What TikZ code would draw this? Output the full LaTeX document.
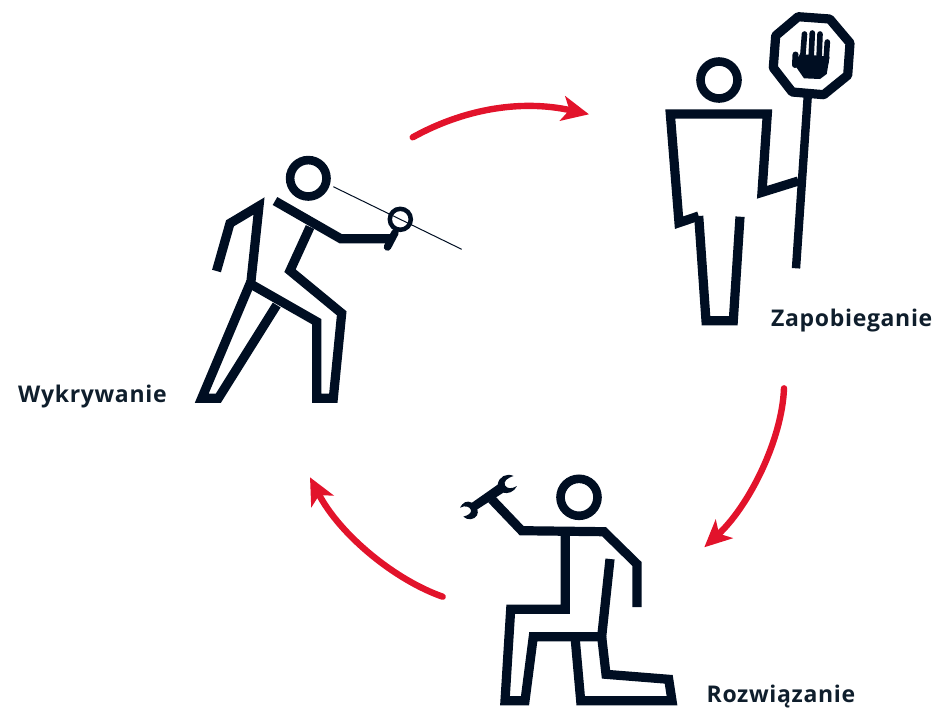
\documentclass[tikz,border=0pt]{standalone}
\usepackage{fontspec}
\setmainfont{Open Sans}[LetterSpace=2.9]
\usetikzlibrary{arrows.meta}
\definecolor{ink}{HTML}{000E22}
\definecolor{txt}{HTML}{0F1E2C}
\definecolor{redc}{HTML}{E2132B}
\tikzset{
  fig/.style={draw=ink,line width=9.2pt,line join=miter,miter limit=10,line cap=butt},
  headc/.style={draw=ink,line width=8.6pt},
  flow/.style={draw=redc,line width=6.4pt,line cap=round,-{Stealth[length=27pt,width=25pt,inset=7pt]}},
  lbl/.style={anchor=base west,inner sep=0pt,text=txt,font=\fontsize{23}{26}\selectfont\bfseries},
  finger/.style={draw=ink,line width=5.6pt,line cap=round}
}
\begin{document}
\begin{tikzpicture}[x=1pt,y=-1pt]
\useasboundingbox (0,0) rectangle (940,710);
% Wykrywanie figure
\draw[headc] (308.3,178.3) circle[radius=18.2pt];
\draw[ink,line width=1pt] (333.3,186.7) -- (461.7,249.3);
\draw[draw=ink,line width=4.5pt] (400.3,219.3) circle[radius=10.5pt];
\draw[fig] (275,201) -- (340.7,238.7) -- (392,238.7);
\draw[draw=ink,line width=7.5pt,line cap=round] (395,232.7) -- (387.5,247);
\draw[fig] (216.5,271) -- (230,223.3) -- (259,206) -- (250.7,284) -- (316.7,321.7) -- (316.7,398.3) -- (333.3,398.3) -- (341.7,313.3) -- (290,270.7) -- (310,227);
\draw[fig] (250.7,282) -- (201.7,398.3) -- (218.3,398.3) -- (276.7,305);
% Zapobieganie figure
\draw[headc] (719,80) circle[radius=18.5pt];
\draw[fig] (698.7,216) -- (679,222.7) -- (670.3,114) -- (767.3,114) -- (762,192.3) -- (798.3,181);
\draw[fig] (698.7,216) -- (706,320.7) -- (733.3,320.7) -- (740,216.7);
\draw[draw=ink,line width=8.4pt] (807.7,96.7) -- (796,268.3);
\draw[fig,line join=round] (798.2,16.7) -- (829.7,19) -- (850,43) -- (847.7,75.2) -- (823.7,94.7) -- (792.2,92) -- (773.3,67.7) -- (775.7,35.7) -- cycle;
\fill[ink] (794,64) -- (804,78.3) -- (820,79) -- (826.7,74) -- (829.6,56.7) -- (800,54) -- cycle;
\draw[finger,line width=6pt] (795.5,54.5) -- (795,65);
\draw[finger] (804.5,34) -- (802.5,60);
\draw[finger] (812.3,33) -- (811,60);
\draw[finger] (820,34) -- (819,60);
\draw[finger] (827.3,42) -- (826,62);
% Rozwiazanie figure
\draw[headc] (579,497.3) circle[radius=18.5pt];
\draw[fig] (491.7,499.3) -- (521.7,530.7) -- (604,531.7) -- (637,564) -- (637,607);
\draw[fig] (565.3,531.7) -- (565.3,609.3) -- (510.7,609.3) -- (505,700.7) -- (525,700.7) -- (533.3,636.7) -- (601.7,636.7) -- (610,559);
\draw[fig] (601.7,636.7) -- (606,674.3) -- (668.7,679.3) -- (672,700.7) -- (580.7,700.7) -- (575,636.7);
\begin{scope}[shift={(450,460)},x=0.3333pt,y=-0.3333pt]
\fill[ink] (66,128) .. controls (50,120) and (38,128) .. (30,143)
  .. controls (45,135) and (60,140) .. (63,150)
  .. controls (64,160) and (56,165) .. (40,170)
  .. controls (53,182) and (72,180) .. (81,166)
  .. controls (84,160) and (84,154) .. (82,148)
  -- (160,98)
  .. controls (172,102) and (192,97) .. (201,78)
  .. controls (185,88) and (170,86) .. (165,76)
  .. controls (160,65) and (170,54) .. (191,48)
  .. controls (170,38) and (146,50) .. (143,74) -- cycle;
\end{scope}
% Labels
\node[lbl] (w) at (18,402) {Wykrywanie};
\node[lbl] (z) at (771,326) {Zapobieganie};
\node[lbl] (r) at (706.5,702) {Rozwiązanie};
% Arrows
\coordinate (a1) at (412.7,137.3);
\coordinate (b1) at (589,114.3);
\coordinate (a2) at (784,388.3);
\coordinate (b2) at (704.3,547.3);
\coordinate (a3) at (442.7,596.7);
\coordinate (b3) at (310,477.3);
\draw[flow] (a1) .. controls (462,110) and (519,98.9) .. (b1);
\draw[flow] (a2) .. controls (782,440) and (749,506) .. (b2);
\draw[flow] (a3) .. controls (395,580) and (340,535) .. (b3);
\end{tikzpicture}
\end{document}
